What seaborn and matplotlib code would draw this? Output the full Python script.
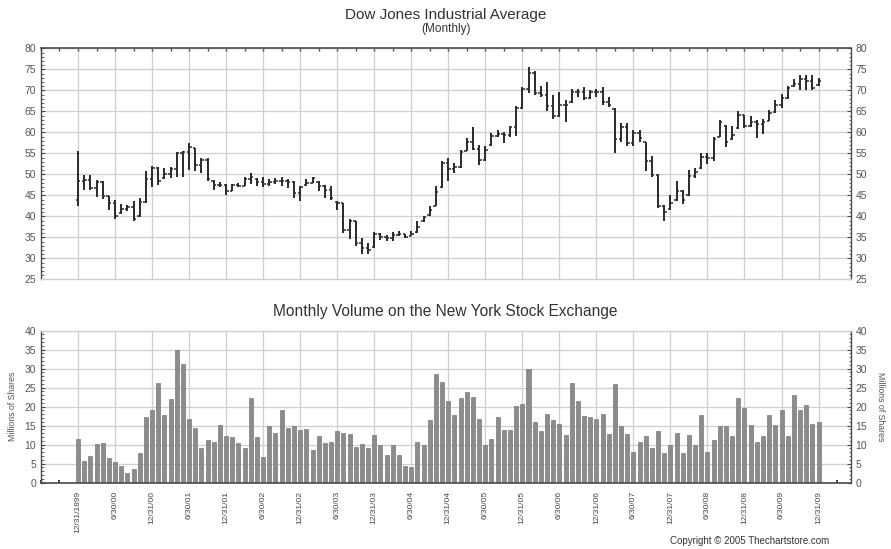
# -*- coding: utf-8 -*-
"""Dow Jones monthly OHLC bars with NYSE monthly volume underneath."""

import pandas as pd
import seaborn as sns
import matplotlib.pyplot as plt
from matplotlib.ticker import MultipleLocator

# month index 0 = 12/31/1899 ... 120 = 12/31/09
months = list(range(121))

tick_labels = ['12/31/1899', '6/30/00', '12/31/00', '6/30/01', '12/31/01',
               '6/30/02', '12/31/02', '6/30/03', '12/31/03', '6/30/04',
               '12/31/04', '6/30/05', '12/31/05', '6/30/06', '12/31/06',
               '6/30/07', '12/31/07', '6/30/08', '12/31/08', '6/30/09',
               '12/31/09']

highs = [55.6, 49.9, 49.9, 48.7, 48.5, 44.9, 44.0, 43.0, 42.8, 43.6,
         44.5, 50.7, 51.9, 51.7, 51.5, 51.7, 55.3, 55.6, 57.4, 56.4,
         54.0, 53.8, 48.7, 48.3, 47.8, 47.8, 48.0, 49.3, 50.3, 49.1,
         49.3, 48.8, 49.1, 49.5, 48.8, 48.4, 47.3, 48.8, 49.5, 48.4,
         47.4, 47.2, 43.6, 43.2, 39.3, 38.9, 34.9, 33.7, 36.2, 36.1,
         35.7, 36.2, 36.6, 35.9, 36.5, 38.9, 40.1, 42.4, 47.3, 53.1,
         53.9, 52.7, 55.9, 58.6, 61.2, 57.1, 56.8, 59.8, 60.5, 60.2,
         61.6, 66.2, 70.9, 75.6, 74.5, 71.1, 71.9, 68.9, 69.7, 67.7,
         70.3, 70.3, 70.9, 70.1, 70.3, 70.7, 68.4, 65.8, 62.2, 62.2,
         60.6, 60.5, 57.8, 54.3, 50.0, 42.8, 45.2, 48.4, 46.4, 51.1,
         51.5, 55.1, 55.1, 59.0, 63.0, 61.8, 61.4, 65.0, 64.2, 63.8,
         63.0, 63.2, 65.4, 67.6, 69.2, 71.1, 72.6, 73.7, 73.7, 73.7,
         72.9]

lows = [42.6, 46.3, 46.3, 44.6, 44.1, 41.5, 39.4, 40.7, 41.4, 38.8,
        39.9, 43.3, 47.0, 47.4, 48.9, 49.1, 49.5, 49.3, 51.1, 50.7,
        50.4, 48.5, 46.3, 47.1, 45.2, 46.0, 47.1, 47.3, 47.8, 47.3,
        46.9, 47.2, 47.8, 47.2, 46.8, 44.4, 43.6, 47.2, 48.0, 46.0,
        44.4, 44.0, 41.6, 36.1, 34.7, 32.9, 31.0, 31.0, 32.5, 34.5,
        34.1, 34.1, 35.3, 34.9, 35.3, 36.1, 38.6, 40.1, 42.4, 46.8,
        48.4, 50.3, 51.5, 55.5, 55.7, 52.3, 53.1, 56.7, 58.9, 57.5,
        59.0, 59.2, 65.5, 69.3, 68.9, 68.4, 65.0, 63.1, 63.6, 62.4,
        67.1, 68.5, 67.7, 67.9, 68.4, 66.6, 66.0, 55.2, 57.6, 56.8,
        56.8, 57.8, 50.7, 49.4, 42.0, 38.9, 41.6, 43.6, 43.0, 44.8,
        49.1, 51.3, 52.5, 53.3, 58.9, 56.5, 58.2, 60.8, 61.0, 61.2,
        58.6, 59.7, 62.6, 64.6, 65.8, 67.9, 70.9, 70.1, 70.1, 70.0,
        71.0]

opens = [44.0, 48.5, 48.7, 46.8, 48.3, 44.8, 43.2, 40.9, 41.8, 42.2,
         40.1, 43.4, 48.9, 51.5, 49.1, 50.2, 51.2, 55.0, 55.4, 56.2,
         52.2, 53.4, 48.5, 47.4, 47.5, 46.0, 47.6, 47.3, 48.8, 48.9,
         48.2, 47.8, 48.3, 48.5, 48.4, 48.2, 45.6, 47.4, 48.0, 48.2,
         47.2, 46.2, 43.4, 43.1, 36.8, 38.8, 33.8, 32.5, 32.7, 35.8,
         35.2, 34.8, 35.6, 35.8, 35.4, 36.3, 38.8, 40.3, 42.6, 47.0,
         52.6, 51.4, 51.8, 55.6, 57.8, 56.0, 53.5, 56.9, 59.2, 59.5,
         59.4, 61.2, 65.8, 70.3, 74.2, 69.4, 69.0, 66.3, 64.0, 66.4,
         67.3, 69.5, 69.6, 68.2, 69.6, 69.7, 67.3, 65.5, 58.5, 61.2,
         57.4, 59.8, 57.6, 53.2, 49.8, 42.5, 41.8, 43.8, 46.0, 45.0,
         49.7, 51.5, 54.2, 53.8, 59.0, 61.5, 58.4, 61.0, 64.2, 61.6,
         62.4, 62.0, 62.8, 64.8, 66.5, 68.2, 71.0, 71.6, 72.8, 72.3,
         71.2]

closes = [48.5, 48.7, 46.8, 48.3, 44.8, 43.2, 40.0, 41.8, 42.2, 39.5,
          43.4, 48.9, 51.5, 48.4, 50.2, 51.2, 55.0, 55.4, 56.6, 52.2,
          53.4, 48.8, 47.4, 47.5, 46.0, 47.6, 47.3, 48.8, 49.3, 48.2,
          47.8, 48.3, 48.5, 48.4, 48.2, 45.6, 47.0, 48.0, 49.1, 47.2,
          46.2, 44.3, 43.3, 36.8, 38.8, 33.8, 32.5, 32.0, 35.8, 35.2,
          34.8, 35.6, 35.8, 35.1, 35.9, 37.4, 39.8, 41.5, 45.8, 52.6,
          51.4, 51.8, 55.3, 57.8, 56.0, 53.5, 55.8, 59.2, 59.5, 59.4,
          61.2, 65.8, 70.3, 74.2, 69.4, 69.0, 66.3, 64.0, 66.4, 66.5,
          69.5, 69.6, 68.2, 69.6, 69.7, 67.3, 66.6, 58.5, 61.2, 57.4,
          59.8, 58.6, 53.2, 49.8, 42.5, 41.0, 43.2, 46.0, 43.8, 49.7,
          50.6, 54.2, 53.8, 58.5, 62.5, 57.8, 59.3, 64.2, 61.6, 62.4,
          62.0, 62.5, 64.5, 66.5, 68.2, 70.6, 71.6, 72.8, 72.3, 70.6,
          72.2]

volume = [11.4, 5.7, 7.0, 10.1, 10.5, 6.5, 5.5, 4.3, 2.5, 3.7,
          7.9, 17.3, 19.1, 26.1, 17.7, 21.9, 34.8, 31.2, 16.7, 14.3,
          9.2, 11.1, 10.8, 15.3, 12.4, 11.9, 10.4, 9.2, 22.3, 11.9,
          6.7, 14.8, 13.1, 19.2, 14.3, 14.9, 13.9, 14.0, 8.6, 12.3,
          10.4, 10.6, 13.6, 13.1, 12.8, 9.4, 10.3, 9.2, 12.5, 10.0,
          7.2, 10.0, 7.2, 4.3, 4.1, 10.6, 9.8, 16.5, 28.7, 26.5,
          21.6, 17.9, 22.3, 23.9, 22.6, 16.7, 9.9, 11.4, 17.3, 13.8,
          13.8, 20.1, 20.7, 29.8, 16.0, 13.6, 18.0, 16.5, 15.5, 12.6,
          26.3, 21.4, 17.6, 17.3, 16.7, 18.1, 12.8, 26.0, 14.9, 12.8,
          8.2, 10.8, 12.3, 9.2, 13.5, 7.9, 9.9, 13.0, 7.7, 12.5,
          9.8, 17.7, 8.2, 11.3, 14.9, 14.9, 12.3, 22.3, 19.7, 15.3,
          10.8, 12.3, 17.7, 15.3, 19.1, 12.3, 23.0, 19.1, 20.4, 15.5,
          16.0]

sns.set_style('white')
plt.rcParams['font.family'] = ['Liberation Sans', 'DejaVu Sans']

DARK = '#4a4a4a'
GRID = '#cfcfcf'
TXT = '#333333'

df = pd.DataFrame({'month': months, 'high': highs, 'low': lows,
                   'open': opens, 'close': closes, 'volume': volume})

fig = plt.figure(figsize=(8.91, 5.49), dpi=100)
ax1 = fig.add_axes([0.046, 0.4909, 0.9087, 0.4211])
ax2 = fig.add_axes([0.046, 0.1208, 0.9087, 0.2769])

XMIN, XMAX = -6, 125.2


def style_axes(ax, ymin, ymax, top_dark):
    ax.set_xlim(XMIN, XMAX)
    ax.set_ylim(ymin, ymax)
    ax.set_xticks(range(0, 121, 6))
    ax.xaxis.set_minor_locator(MultipleLocator(3))
    ax.yaxis.set_major_locator(MultipleLocator(5))
    ax.yaxis.set_minor_locator(MultipleLocator(1))
    ax.grid(True, which='major', color=GRID, linewidth=0.9)
    ax.set_axisbelow(True)
    for side in ['left', 'right']:
        ax.spines[side].set_color(DARK)
        ax.spines[side].set_linewidth(1.0)
    dark, light = ('top', 'bottom') if top_dark else ('bottom', 'top')
    ax.spines[dark].set_color(DARK)
    ax.spines[dark].set_linewidth(1.2)
    ax.spines[light].set_color(GRID)
    ax.spines[light].set_linewidth(0.9)
    ax.tick_params(axis='y', which='both', direction='in', left=True,
                   right=True, labelleft=True, labelright=True,
                   colors=DARK, labelcolor='#555555', labelsize=7.5)
    ax.tick_params(axis='y', which='major', length=3, width=0.8)
    ax.tick_params(axis='y', which='minor', length=1.8, width=0.6)
    ax.set_xlabel('')
    ax.set_ylabel('')


# price bars
ax1.vlines(df['month'], df['low'], df['high'], color='#2a2a2a', linewidth=1.4)
ax1.hlines(df['open'], df['month'] - 0.4, df['month'], color='#2a2a2a',
           linewidth=1.1)
ax1.hlines(df['close'], df['month'], df['month'] + 0.4, color='#2a2a2a',
           linewidth=1.1)
style_axes(ax1, 25, 80, top_dark=True)
ax1.tick_params(axis='x', which='both', direction='in', top=True,
                bottom=False, labelbottom=False, length=2, width=1.0,
                colors=DARK)

# volume bars
sns.barplot(data=df, x='month', y='volume', native_scale=True, ax=ax2,
            color='#8c8c8c', edgecolor='#666666', linewidth=0.4,
            width=0.65, saturation=1, errorbar=None)
style_axes(ax2, 0, 40, top_dark=False)
ax2.set_xticks(range(0, 121, 6))
ax2.set_xticklabels(tick_labels, rotation=90, fontsize=6, color='#444444')
ax2.tick_params(axis='x', which='both', direction='in', bottom=True,
                top=False, length=2, width=1.2, colors='#222222',
                labelcolor='#444444', pad=6)

fig.text(0.5, 0.9727, 'Dow Jones Industrial Average', ha='center',
         va='center', fontsize=11, color=TXT)
fig.text(0.5, 0.9466, '(Monthly)', ha='center', va='center', fontsize=8.5,
         color=TXT)
fig.text(0.5, 0.4323, 'Monthly Volume on the New York Stock Exchange',
         ha='center', va='center', fontsize=11.2, color=TXT)
fig.text(0.0135, 0.2596, 'Millions of Shares', rotation=90, ha='center',
         va='center', fontsize=6.3, color='#555555')
fig.text(0.9877, 0.2596, 'Millions of Shares', rotation=270, ha='center',
         va='center', fontsize=6.3, color='#555555')
fig.text(0.841, 0.015, 'Copyright \u00a9 2005 Thechartstore.com',
         ha='center', va='center', fontsize=7, color='#333333')

fig.savefig('out.png', dpi=100)
